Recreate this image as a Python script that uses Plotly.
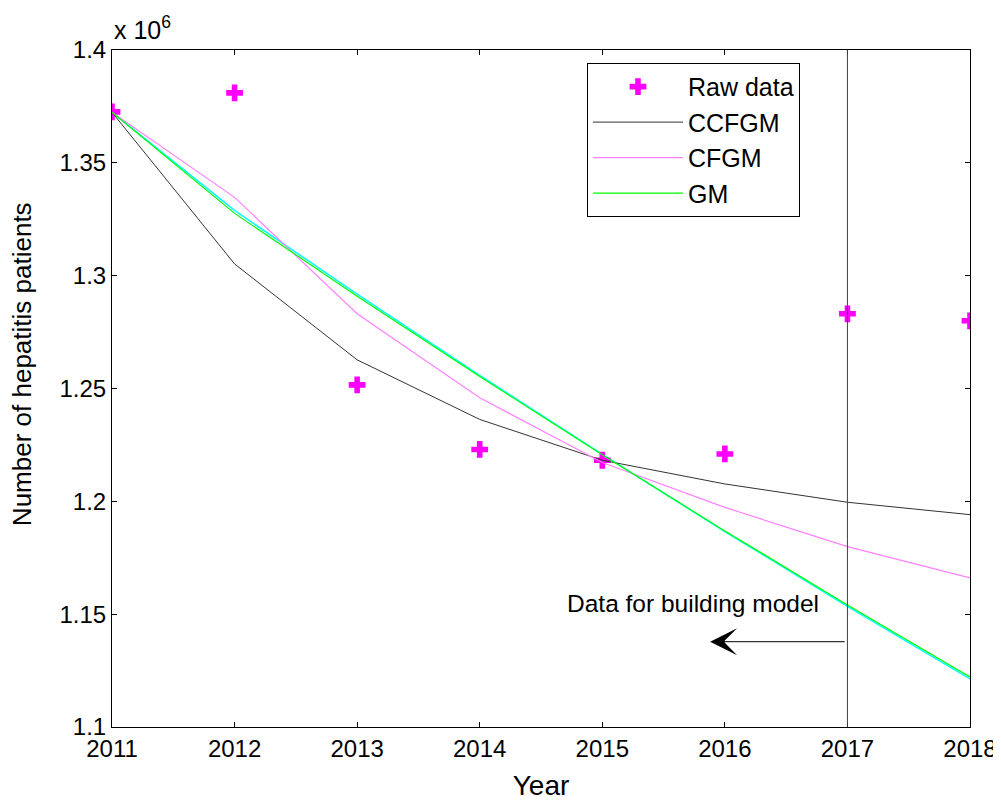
import plotly.graph_objects as go

years = [2011, 2012, 2013, 2014, 2015, 2016, 2017, 2018]
raw_data = [1.3726, 1.3810, 1.2516, 1.2230, 1.2182, 1.2210, 1.2831, 1.2800]
ccfgm = [1.3724, 1.3052, 1.2627, 1.2363, 1.2182, 1.2077, 1.1996, 1.1941]
cfgm = [1.3724, 1.3347, 1.2831, 1.2459, 1.2172, 1.1973, 1.1799, 1.1661]
gm = [1.3724, 1.3276, 1.2909, 1.2553, 1.2206, 1.1869, 1.1541, 1.1222]
gm_alt = [1.3724, 1.3289, 1.2918, 1.2558, 1.2208, 1.1866, 1.1535, 1.1213]

y_ticks = [1.1, 1.15, 1.2, 1.25, 1.3, 1.35, 1.4]
y_ticktext = ["1.1", "1.15", "1.2", "1.25", "1.3", "1.35", "1.4"]

split_year = 2017
arrow_head_year = 2015.88
arrow_y = 1.1378
note_text = "Data for building model"
y_title = "Number of hepatitis patients"

FONT = "Liberation Sans, Arial, sans-serif"

fig = go.Figure()
fig.add_trace(go.Scatter(x=years, y=gm_alt, mode="lines", line=dict(color="#00ffff", width=1.5),
                         showlegend=False, hoverinfo="skip"))
fig.add_trace(go.Scatter(x=years, y=raw_data, mode="markers", name="Raw data",
                         marker=dict(symbol="cross", size=14, color="#ff00ff")))
fig.add_trace(go.Scatter(x=years, y=ccfgm, mode="lines", name="CCFGM",
                         line=dict(color="#333333", width=1)))
fig.add_trace(go.Scatter(x=years, y=cfgm, mode="lines", name="CFGM",
                         line=dict(color="#ff80ff", width=1.2)))
fig.add_trace(go.Scatter(x=years, y=gm, mode="lines", name="GM",
                         line=dict(color="#00ff00", width=1.2)))

fig.add_shape(type="line", xref="x", yref="paper", x0=split_year, x1=split_year, y0=0, y1=1,
              line=dict(color="#404040", width=1))
fig.add_annotation(x=arrow_head_year, y=arrow_y, ax=split_year - 0.01, ay=arrow_y,
                   xref="x", yref="y", axref="x", ayref="y", text="", showarrow=True,
                   arrowhead=3, arrowsize=4.5, arrowwidth=1, arrowcolor="black")
fig.add_annotation(x=2015.74, y=1.1547, xref="x", yref="y", text=note_text, showarrow=False,
                   font=dict(family=FONT, size=24.5, color="black"))
fig.add_annotation(x=0, y=1, xref="paper", yref="paper", xanchor="left", yanchor="bottom",
                   yshift=4, text="x 10<sup>6</sup>", showarrow=False,
                   font=dict(family=FONT, size=25, color="black"))
fig.add_annotation(x=0, y=0.536, xref="paper", yref="paper", xanchor="center", yanchor="middle",
                   xshift=-90, textangle=-90, text=y_title, showarrow=False,
                   font=dict(family=FONT, size=26, color="black"))

axis_common = dict(showgrid=False, zeroline=False, showline=True, linecolor="black", linewidth=1,
                   mirror="allticks", ticks="inside", ticklen=5, tickcolor="black",
                   tickfont=dict(family=FONT, size=24, color="black"))
fig.update_xaxes(range=[2011, 2018], tickvals=years, ticktext=[str(y) for y in years],
                 title=dict(text="Year", font=dict(family=FONT, size=28, color="black"), standoff=14),
                 **axis_common)
fig.update_yaxes(range=[1.1, 1.4], tickvals=y_ticks, ticktext=y_ticktext, **axis_common)

fig.update_layout(
    width=1001, height=803,
    margin=dict(l=104, r=39, t=42, b=84, autoexpand=False),
    plot_bgcolor="white", paper_bgcolor="white",
    legend=dict(x=0.5536, y=0.981, xanchor="left", yanchor="top", bgcolor="white",
                bordercolor="black", borderwidth=1, font=dict(family=FONT, size=25, color="black"),
                itemwidth=90, tracegroupgap=0),
    font=dict(family=FONT),
)
fig.write_html("out.html")
